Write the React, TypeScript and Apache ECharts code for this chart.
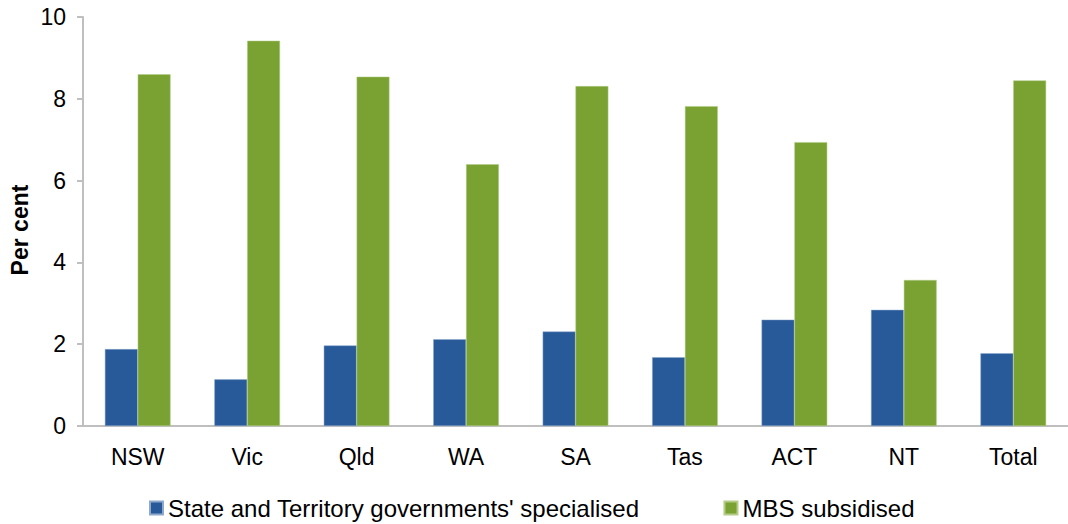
import React, { useEffect, useRef } from "react";
import * as echarts from "echarts";

const categories = ["NSW", "Vic", "Qld", "WA", "SA", "Tas", "ACT", "NT", "Total"];
const stateSpecialised = [1.88, 1.14, 1.97, 2.12, 2.31, 1.68, 2.6, 2.84, 1.78];
const mbsSubsidised = [8.6, 9.42, 8.54, 6.4, 8.31, 7.82, 6.94, 3.57, 8.45];
const seriesNames = ["State and Territory governments' specialised", "MBS subsidised"];
const yAxisTitle = "Per cent";

export default function App() {
  const ref = useRef<HTMLDivElement>(null);
  useEffect(() => {
    document.body.style.margin = "0";
    const chart = echarts.init(ref.current!, null, { renderer: "svg" });
    const font = "Liberation Sans, Arial, sans-serif";
    chart.setOption({
      animation: false,
      textStyle: { fontFamily: font },
      grid: { left: 83, right: 0, top: 17, bottom: 98, containLabel: false },
      graphic: [
        {
          type: "text",
          x: 20,
          y: 230,
          rotation: Math.PI / 2,
          style: {
            text: yAxisTitle,
            font: `bold 23px ${font}`,
            fill: "#000",
            textAlign: "center",
            textVerticalAlign: "middle",
          },
        },
      ],
      legend: {
        left: 144,
        top: 491,
        itemWidth: 13,
        itemHeight: 13,
        itemGap: 84,
        icon: "rect",
        textStyle: { fontSize: 24, color: "#000", fontFamily: font },
        data: seriesNames,
      },
      xAxis: {
        type: "category",
        data: categories,
        axisLine: { lineStyle: { color: "#bfbfbf", width: 2 } },
        axisTick: { show: false },
        axisLabel: { color: "#000", fontSize: 23, margin: 19, fontFamily: font },
      },
      yAxis: {
        type: "value",
        min: 0,
        max: 10,
        interval: 2,
        axisLine: { show: true, lineStyle: { color: "#bfbfbf", width: 2 } },
        axisTick: { show: true, length: 6, lineStyle: { color: "#bfbfbf", width: 2 } },
        splitLine: { show: false },
        axisLabel: { color: "#000", fontSize: 23, margin: 17, fontFamily: font },
      },
      series: [
        {
          name: seriesNames[0],
          type: "bar",
          data: stateSpecialised,
          barGap: "0%",
          barCategoryGap: "40%",
          itemStyle: { color: "#285a9a", borderColor: "#8fa9cc", borderWidth: 0.5 },
        },
        {
          name: seriesNames[1],
          type: "bar",
          data: mbsSubsidised,
          barGap: "0%",
          barCategoryGap: "40%",
          itemStyle: { color: "#7aa233", borderColor: "#b3cc88", borderWidth: 0.5 },
        },
      ],
    });
    return () => chart.dispose();
  }, []);
  return <div ref={ref} style={{ width: 1068, height: 524 }} />;
}
